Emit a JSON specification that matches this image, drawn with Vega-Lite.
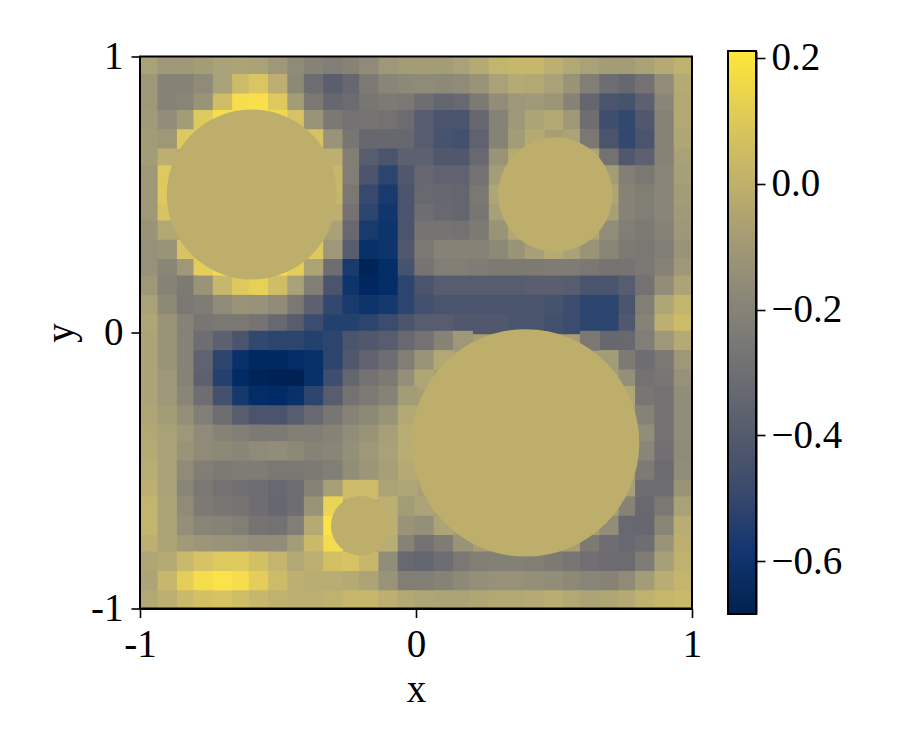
{"$schema":"https://vega.github.io/schema/vega-lite/v6.json","background":"white","padding":{"left":41,"top":37,"right":5,"bottom":5},"bounds":"flush","center":true,"spacing":36,"config":{"view":{"stroke":null},"axis":{"labelFont":"Liberation Serif","titleFont":"Liberation Serif","labelFontSize":39,"titleFontSize":39,"labelColor":"black","titleColor":"black","domainColor":"black","tickColor":"black","domainWidth":2,"tickWidth":1.6,"tickSize":9,"grid":false,"titleFontWeight":"normal","labelPadding":8,"labelFlush":false}},"hconcat":[{"width":552,"height":552,"view":{"fill":"#a89e73","stroke":null},"layer":[{"data":{"values":[
{"x":-0.97,"y":0.97,"v":-0.06},{"x":-0.9,"y":0.97,"v":-0.1},{"x":-0.83,"y":0.97,"v":-0.1},{"x":-0.77,"y":0.97,"v":-0.08},{"x":-0.7,"y":0.97,"v":-0.06},{"x":-0.63,"y":0.97,"v":-0.05},{"x":-0.57,"y":0.97,"v":-0.06},{"x":-0.5,"y":0.97,"v":-0.1},{"x":-0.43,"y":0.97,"v":-0.16},{"x":-0.37,"y":0.97,"v":-0.2},{"x":-0.3,"y":0.97,"v":-0.22},{"x":-0.23,"y":0.97,"v":-0.2},{"x":-0.17,"y":0.97,"v":-0.16},{"x":-0.1,"y":0.97,"v":-0.1},{"x":-0.03,"y":0.97,"v":-0.08},{"x":0.03,"y":0.97,"v":-0.08},{"x":0.1,"y":0.97,"v":-0.08},{"x":0.17,"y":0.97,"v":-0.06},{"x":0.23,"y":0.97,"v":-0.02},{"x":0.3,"y":0.97,"v":0.02},{"x":0.37,"y":0.97,"v":0.03},{"x":0.43,"y":0.97,"v":0.03},{"x":0.5,"y":0.97,"v":0},{"x":0.57,"y":0.97,"v":-0.03},{"x":0.63,"y":0.97,"v":-0.06},{"x":0.7,"y":0.97,"v":-0.08},{"x":0.77,"y":0.97,"v":-0.08},{"x":0.83,"y":0.97,"v":-0.06},{"x":0.9,"y":0.97,"v":-0.02},{"x":0.97,"y":0.97,"v":0.01},
{"x":-0.97,"y":0.9,"v":-0.1},{"x":-0.9,"y":0.9,"v":-0.2},{"x":-0.83,"y":0.9,"v":-0.2},{"x":-0.77,"y":0.9,"v":-0.16},{"x":-0.7,"y":0.9,"v":-0.06},{"x":-0.63,"y":0.9,"v":0.05},{"x":-0.57,"y":0.9,"v":0.09},{"x":-0.5,"y":0.9,"v":0},{"x":-0.43,"y":0.9,"v":-0.17},{"x":-0.37,"y":0.9,"v":-0.3},{"x":-0.3,"y":0.9,"v":-0.37},{"x":-0.23,"y":0.9,"v":-0.33},{"x":-0.17,"y":0.9,"v":-0.24},{"x":-0.1,"y":0.9,"v":-0.18},{"x":-0.03,"y":0.9,"v":-0.17},{"x":0.03,"y":0.9,"v":-0.16},{"x":0.1,"y":0.9,"v":-0.17},{"x":0.17,"y":0.9,"v":-0.16},{"x":0.23,"y":0.9,"v":-0.12},{"x":0.3,"y":0.9,"v":-0.06},{"x":0.37,"y":0.9,"v":-0.02},{"x":0.43,"y":0.9,"v":-0.03},{"x":0.5,"y":0.9,"v":-0.06},{"x":0.57,"y":0.9,"v":-0.12},{"x":0.63,"y":0.9,"v":-0.22},{"x":0.7,"y":0.9,"v":-0.3},{"x":0.77,"y":0.9,"v":-0.33},{"x":0.83,"y":0.9,"v":-0.28},{"x":0.9,"y":0.9,"v":-0.15},{"x":0.97,"y":0.9,"v":-0.02},
{"x":-0.97,"y":0.83,"v":-0.1},{"x":-0.9,"y":0.83,"v":-0.2},{"x":-0.83,"y":0.83,"v":-0.19},{"x":-0.77,"y":0.83,"v":-0.12},{"x":-0.7,"y":0.83,"v":0.06},{"x":-0.63,"y":0.83,"v":0.18},{"x":-0.57,"y":0.83,"v":0.19},{"x":-0.5,"y":0.83,"v":0.1},{"x":-0.43,"y":0.83,"v":-0.08},{"x":-0.37,"y":0.83,"v":-0.25},{"x":-0.3,"y":0.83,"v":-0.33},{"x":-0.23,"y":0.83,"v":-0.31},{"x":-0.17,"y":0.83,"v":-0.26},{"x":-0.1,"y":0.83,"v":-0.24},{"x":-0.03,"y":0.83,"v":-0.25},{"x":0.03,"y":0.83,"v":-0.3},{"x":0.1,"y":0.83,"v":-0.34},{"x":0.17,"y":0.83,"v":-0.32},{"x":0.23,"y":0.83,"v":-0.24},{"x":0.3,"y":0.83,"v":-0.15},{"x":0.37,"y":0.83,"v":-0.1},{"x":0.43,"y":0.83,"v":-0.09},{"x":0.5,"y":0.83,"v":-0.11},{"x":0.57,"y":0.83,"v":-0.2},{"x":0.63,"y":0.83,"v":-0.34},{"x":0.7,"y":0.83,"v":-0.42},{"x":0.77,"y":0.83,"v":-0.43},{"x":0.83,"y":0.83,"v":-0.36},{"x":0.9,"y":0.83,"v":-0.18},{"x":0.97,"y":0.83,"v":-0.03},
{"x":-0.97,"y":0.77,"v":-0.09},{"x":-0.9,"y":0.77,"v":-0.15},{"x":-0.83,"y":0.77,"v":-0.08},{"x":-0.77,"y":0.77,"v":0.1},{"x":-0.7,"y":0.77,"v":0.18},{"x":-0.5,"y":0.77,"v":0.16},{"x":-0.43,"y":0.77,"v":0.08},{"x":-0.37,"y":0.77,"v":-0.12},{"x":-0.3,"y":0.77,"v":-0.25},{"x":-0.23,"y":0.77,"v":-0.28},{"x":-0.17,"y":0.77,"v":-0.27},{"x":-0.1,"y":0.77,"v":-0.28},{"x":-0.03,"y":0.77,"v":-0.31},{"x":0.03,"y":0.77,"v":-0.38},{"x":0.1,"y":0.77,"v":-0.42},{"x":0.17,"y":0.77,"v":-0.42},{"x":0.23,"y":0.77,"v":-0.33},{"x":0.3,"y":0.77,"v":-0.2},{"x":0.37,"y":0.77,"v":-0.1},{"x":0.43,"y":0.77,"v":-0.05},{"x":0.5,"y":0.77,"v":-0.03},{"x":0.57,"y":0.77,"v":-0.1},{"x":0.63,"y":0.77,"v":-0.3},{"x":0.7,"y":0.77,"v":-0.45},{"x":0.77,"y":0.77,"v":-0.48},{"x":0.83,"y":0.77,"v":-0.4},{"x":0.9,"y":0.77,"v":-0.2},{"x":0.97,"y":0.77,"v":-0.03},
{"x":-0.97,"y":0.7,"v":-0.08},{"x":-0.9,"y":0.7,"v":-0.1},{"x":-0.83,"y":0.7,"v":0.1},{"x":-0.37,"y":0.7,"v":0.08},{"x":-0.3,"y":0.7,"v":-0.12},{"x":-0.23,"y":0.7,"v":-0.26},{"x":-0.17,"y":0.7,"v":-0.33},{"x":-0.1,"y":0.7,"v":-0.33},{"x":-0.03,"y":0.7,"v":-0.33},{"x":0.03,"y":0.7,"v":-0.38},{"x":0.1,"y":0.7,"v":-0.43},{"x":0.17,"y":0.7,"v":-0.44},{"x":0.23,"y":0.7,"v":-0.35},{"x":0.3,"y":0.7,"v":-0.2},{"x":0.37,"y":0.7,"v":-0.08},{"x":0.43,"y":0.7,"v":-0.02},{"x":0.57,"y":0.7,"v":-0.05},{"x":0.63,"y":0.7,"v":-0.25},{"x":0.7,"y":0.7,"v":-0.42},{"x":0.77,"y":0.7,"v":-0.48},{"x":0.83,"y":0.7,"v":-0.42},{"x":0.9,"y":0.7,"v":-0.2},{"x":0.97,"y":0.7,"v":-0.04},
{"x":-0.97,"y":0.63,"v":-0.08},{"x":-0.9,"y":0.63,"v":0},{"x":-0.3,"y":0.63,"v":0},{"x":-0.23,"y":0.63,"v":-0.22},{"x":-0.17,"y":0.63,"v":-0.38},{"x":-0.1,"y":0.63,"v":-0.42},{"x":-0.03,"y":0.63,"v":-0.36},{"x":0.03,"y":0.63,"v":-0.36},{"x":0.1,"y":0.63,"v":-0.4},{"x":0.17,"y":0.63,"v":-0.4},{"x":0.23,"y":0.63,"v":-0.32},{"x":0.3,"y":0.63,"v":-0.12},{"x":0.37,"y":0.63,"v":-0.02},{"x":0.63,"y":0.63,"v":-0.05},{"x":0.7,"y":0.63,"v":-0.28},{"x":0.77,"y":0.63,"v":-0.4},{"x":0.83,"y":0.63,"v":-0.36},{"x":0.9,"y":0.63,"v":-0.2},{"x":0.97,"y":0.63,"v":-0.06},
{"x":-0.97,"y":0.57,"v":-0.1},{"x":-0.9,"y":0.57,"v":0.1},{"x":-0.3,"y":0.57,"v":0.03},{"x":-0.23,"y":0.57,"v":-0.22},{"x":-0.17,"y":0.57,"v":-0.42},{"x":-0.1,"y":0.57,"v":-0.5},{"x":-0.03,"y":0.57,"v":-0.4},{"x":0.03,"y":0.57,"v":-0.33},{"x":0.1,"y":0.57,"v":-0.35},{"x":0.17,"y":0.57,"v":-0.35},{"x":0.23,"y":0.57,"v":-0.28},{"x":0.3,"y":0.57,"v":-0.08},{"x":0.7,"y":0.57,"v":-0.08},{"x":0.77,"y":0.57,"v":-0.22},{"x":0.83,"y":0.57,"v":-0.25},{"x":0.9,"y":0.57,"v":-0.18},{"x":0.97,"y":0.57,"v":-0.07},
{"x":-0.97,"y":0.5,"v":-0.1},{"x":-0.9,"y":0.5,"v":0.1},{"x":-0.3,"y":0.5,"v":0.03},{"x":-0.23,"y":0.5,"v":-0.25},{"x":-0.17,"y":0.5,"v":-0.47},{"x":-0.1,"y":0.5,"v":-0.55},{"x":-0.03,"y":0.5,"v":-0.42},{"x":0.03,"y":0.5,"v":-0.32},{"x":0.1,"y":0.5,"v":-0.33},{"x":0.17,"y":0.5,"v":-0.34},{"x":0.23,"y":0.5,"v":-0.25},{"x":0.3,"y":0.5,"v":-0.04},{"x":0.7,"y":0.5,"v":-0.04},{"x":0.77,"y":0.5,"v":-0.2},{"x":0.83,"y":0.5,"v":-0.22},{"x":0.9,"y":0.5,"v":-0.18},{"x":0.97,"y":0.5,"v":-0.08},
{"x":-0.97,"y":0.43,"v":-0.1},{"x":-0.9,"y":0.43,"v":0.08},{"x":-0.3,"y":0.43,"v":0},{"x":-0.23,"y":0.43,"v":-0.28},{"x":-0.17,"y":0.43,"v":-0.5},{"x":-0.1,"y":0.43,"v":-0.57},{"x":-0.03,"y":0.43,"v":-0.42},{"x":0.03,"y":0.43,"v":-0.3},{"x":0.1,"y":0.43,"v":-0.32},{"x":0.17,"y":0.43,"v":-0.34},{"x":0.23,"y":0.43,"v":-0.26},{"x":0.3,"y":0.43,"v":-0.07},{"x":0.7,"y":0.43,"v":-0.07},{"x":0.77,"y":0.43,"v":-0.2},{"x":0.83,"y":0.43,"v":-0.22},{"x":0.9,"y":0.43,"v":-0.18},{"x":0.97,"y":0.43,"v":-0.09},
{"x":-0.97,"y":0.37,"v":-0.12},{"x":-0.9,"y":0.37,"v":-0.03},{"x":-0.3,"y":0.37,"v":-0.06},{"x":-0.23,"y":0.37,"v":-0.32},{"x":-0.17,"y":0.37,"v":-0.55},{"x":-0.1,"y":0.37,"v":-0.58},{"x":-0.03,"y":0.37,"v":-0.42},{"x":0.03,"y":0.37,"v":-0.27},{"x":0.1,"y":0.37,"v":-0.27},{"x":0.17,"y":0.37,"v":-0.28},{"x":0.23,"y":0.37,"v":-0.24},{"x":0.3,"y":0.37,"v":-0.12},{"x":0.37,"y":0.37,"v":-0.03},{"x":0.63,"y":0.37,"v":-0.04},{"x":0.7,"y":0.37,"v":-0.15},{"x":0.77,"y":0.37,"v":-0.22},{"x":0.83,"y":0.37,"v":-0.24},{"x":0.9,"y":0.37,"v":-0.2},{"x":0.97,"y":0.37,"v":-0.1},
{"x":-0.97,"y":0.3,"v":-0.13},{"x":-0.9,"y":0.3,"v":-0.12},{"x":-0.83,"y":0.3,"v":0.08},{"x":-0.37,"y":0.3,"v":0.1},{"x":-0.3,"y":0.3,"v":-0.1},{"x":-0.23,"y":0.3,"v":-0.38},{"x":-0.17,"y":0.3,"v":-0.6},{"x":-0.1,"y":0.3,"v":-0.58},{"x":-0.03,"y":0.3,"v":-0.4},{"x":0.03,"y":0.3,"v":-0.25},{"x":0.1,"y":0.3,"v":-0.2},{"x":0.17,"y":0.3,"v":-0.2},{"x":0.23,"y":0.3,"v":-0.2},{"x":0.3,"y":0.3,"v":-0.17},{"x":0.37,"y":0.3,"v":-0.12},{"x":0.43,"y":0.3,"v":-0.07},{"x":0.5,"y":0.3,"v":-0.02},{"x":0.57,"y":0.3,"v":-0.06},{"x":0.63,"y":0.3,"v":-0.12},{"x":0.7,"y":0.3,"v":-0.18},{"x":0.77,"y":0.3,"v":-0.24},{"x":0.83,"y":0.3,"v":-0.25},{"x":0.9,"y":0.3,"v":-0.22},{"x":0.97,"y":0.3,"v":-0.12},
{"x":-0.97,"y":0.23,"v":-0.13},{"x":-0.9,"y":0.23,"v":-0.18},{"x":-0.83,"y":0.23,"v":-0.1},{"x":-0.77,"y":0.23,"v":0.12},{"x":-0.7,"y":0.23,"v":0.17},{"x":-0.5,"y":0.23,"v":0.18},{"x":-0.43,"y":0.23,"v":0.12},{"x":-0.37,"y":0.23,"v":-0.05},{"x":-0.3,"y":0.23,"v":-0.3},{"x":-0.23,"y":0.23,"v":-0.55},{"x":-0.17,"y":0.23,"v":-0.67},{"x":-0.1,"y":0.23,"v":-0.62},{"x":-0.03,"y":0.23,"v":-0.43},{"x":0.03,"y":0.23,"v":-0.27},{"x":0.1,"y":0.23,"v":-0.22},{"x":0.17,"y":0.23,"v":-0.22},{"x":0.23,"y":0.23,"v":-0.23},{"x":0.3,"y":0.23,"v":-0.24},{"x":0.37,"y":0.23,"v":-0.24},{"x":0.43,"y":0.23,"v":-0.24},{"x":0.5,"y":0.23,"v":-0.23},{"x":0.57,"y":0.23,"v":-0.23},{"x":0.63,"y":0.23,"v":-0.25},{"x":0.7,"y":0.23,"v":-0.27},{"x":0.77,"y":0.23,"v":-0.27},{"x":0.83,"y":0.23,"v":-0.25},{"x":0.9,"y":0.23,"v":-0.2},{"x":0.97,"y":0.23,"v":-0.1},
{"x":-0.97,"y":0.17,"v":-0.1},{"x":-0.9,"y":0.17,"v":-0.2},{"x":-0.83,"y":0.17,"v":-0.24},{"x":-0.77,"y":0.17,"v":-0.12},{"x":-0.7,"y":0.17,"v":0.03},{"x":-0.63,"y":0.17,"v":0.1},{"x":-0.57,"y":0.17,"v":0.13},{"x":-0.5,"y":0.17,"v":0.06},{"x":-0.43,"y":0.17,"v":-0.06},{"x":-0.37,"y":0.17,"v":-0.22},{"x":-0.3,"y":0.17,"v":-0.42},{"x":-0.23,"y":0.17,"v":-0.58},{"x":-0.17,"y":0.17,"v":-0.65},{"x":-0.1,"y":0.17,"v":-0.62},{"x":-0.03,"y":0.17,"v":-0.5},{"x":0.03,"y":0.17,"v":-0.42},{"x":0.1,"y":0.17,"v":-0.38},{"x":0.17,"y":0.17,"v":-0.38},{"x":0.23,"y":0.17,"v":-0.38},{"x":0.3,"y":0.17,"v":-0.38},{"x":0.37,"y":0.17,"v":-0.38},{"x":0.43,"y":0.17,"v":-0.37},{"x":0.5,"y":0.17,"v":-0.37},{"x":0.57,"y":0.17,"v":-0.38},{"x":0.63,"y":0.17,"v":-0.42},{"x":0.7,"y":0.17,"v":-0.42},{"x":0.77,"y":0.17,"v":-0.38},{"x":0.83,"y":0.17,"v":-0.28},{"x":0.9,"y":0.17,"v":-0.15},{"x":0.97,"y":0.17,"v":-0.05},
{"x":-0.97,"y":0.1,"v":-0.06},{"x":-0.9,"y":0.1,"v":-0.17},{"x":-0.83,"y":0.1,"v":-0.25},{"x":-0.77,"y":0.1,"v":-0.23},{"x":-0.7,"y":0.1,"v":-0.16},{"x":-0.63,"y":0.1,"v":-0.12},{"x":-0.57,"y":0.1,"v":-0.13},{"x":-0.5,"y":0.1,"v":-0.16},{"x":-0.43,"y":0.1,"v":-0.25},{"x":-0.37,"y":0.1,"v":-0.36},{"x":-0.3,"y":0.1,"v":-0.48},{"x":-0.23,"y":0.1,"v":-0.55},{"x":-0.17,"y":0.1,"v":-0.58},{"x":-0.1,"y":0.1,"v":-0.56},{"x":-0.03,"y":0.1,"v":-0.5},{"x":0.03,"y":0.1,"v":-0.44},{"x":0.1,"y":0.1,"v":-0.42},{"x":0.17,"y":0.1,"v":-0.42},{"x":0.23,"y":0.1,"v":-0.42},{"x":0.3,"y":0.1,"v":-0.42},{"x":0.37,"y":0.1,"v":-0.42},{"x":0.43,"y":0.1,"v":-0.42},{"x":0.5,"y":0.1,"v":-0.43},{"x":0.57,"y":0.1,"v":-0.46},{"x":0.63,"y":0.1,"v":-0.5},{"x":0.7,"y":0.1,"v":-0.5},{"x":0.77,"y":0.1,"v":-0.42},{"x":0.83,"y":0.1,"v":-0.22},{"x":0.9,"y":0.1,"v":-0.04},{"x":0.97,"y":0.1,"v":0.02},
{"x":-0.97,"y":0.03,"v":-0.04},{"x":-0.9,"y":0.03,"v":-0.12},{"x":-0.83,"y":0.03,"v":-0.2},{"x":-0.77,"y":0.03,"v":-0.26},{"x":-0.7,"y":0.03,"v":-0.25},{"x":-0.63,"y":0.03,"v":-0.25},{"x":-0.57,"y":0.03,"v":-0.27},{"x":-0.5,"y":0.03,"v":-0.32},{"x":-0.43,"y":0.03,"v":-0.38},{"x":-0.37,"y":0.03,"v":-0.46},{"x":-0.3,"y":0.03,"v":-0.52},{"x":-0.23,"y":0.03,"v":-0.52},{"x":-0.17,"y":0.03,"v":-0.5},{"x":-0.1,"y":0.03,"v":-0.46},{"x":-0.03,"y":0.03,"v":-0.42},{"x":0.03,"y":0.03,"v":-0.38},{"x":0.1,"y":0.03,"v":-0.38},{"x":0.17,"y":0.03,"v":-0.4},{"x":0.23,"y":0.03,"v":-0.4},{"x":0.3,"y":0.03,"v":-0.4},{"x":0.37,"y":0.03,"v":-0.42},{"x":0.43,"y":0.03,"v":-0.42},{"x":0.5,"y":0.03,"v":-0.44},{"x":0.57,"y":0.03,"v":-0.46},{"x":0.63,"y":0.03,"v":-0.5},{"x":0.7,"y":0.03,"v":-0.5},{"x":0.77,"y":0.03,"v":-0.4},{"x":0.83,"y":0.03,"v":-0.2},{"x":0.9,"y":0.03,"v":0},{"x":0.97,"y":0.03,"v":0.05},
{"x":-0.97,"y":-0.03,"v":-0.05},{"x":-0.9,"y":-0.03,"v":-0.12},{"x":-0.83,"y":-0.03,"v":-0.2},{"x":-0.77,"y":-0.03,"v":-0.3},{"x":-0.7,"y":-0.03,"v":-0.36},{"x":-0.63,"y":-0.03,"v":-0.42},{"x":-0.57,"y":-0.03,"v":-0.48},{"x":-0.5,"y":-0.03,"v":-0.5},{"x":-0.43,"y":-0.03,"v":-0.5},{"x":-0.37,"y":-0.03,"v":-0.52},{"x":-0.3,"y":-0.03,"v":-0.5},{"x":-0.23,"y":-0.03,"v":-0.42},{"x":-0.17,"y":-0.03,"v":-0.4},{"x":-0.1,"y":-0.03,"v":-0.38},{"x":-0.03,"y":-0.03,"v":-0.32},{"x":0.03,"y":-0.03,"v":-0.28},{"x":0.1,"y":-0.03,"v":-0.2},{"x":0.17,"y":-0.03,"v":-0.1},{"x":0.7,"y":-0.03,"v":-0.33},{"x":0.63,"y":-0.03,"v":-0.25},{"x":0.77,"y":-0.03,"v":-0.32},{"x":0.83,"y":-0.03,"v":-0.22},{"x":0.9,"y":-0.03,"v":-0.1},{"x":0.97,"y":-0.03,"v":-0.02},
{"x":-0.97,"y":-0.1,"v":-0.05},{"x":-0.9,"y":-0.1,"v":-0.12},{"x":-0.83,"y":-0.1,"v":-0.2},{"x":-0.77,"y":-0.1,"v":-0.35},{"x":-0.7,"y":-0.1,"v":-0.5},{"x":-0.63,"y":-0.1,"v":-0.6},{"x":-0.57,"y":-0.1,"v":-0.64},{"x":-0.5,"y":-0.1,"v":-0.64},{"x":-0.43,"y":-0.1,"v":-0.62},{"x":-0.37,"y":-0.1,"v":-0.6},{"x":-0.3,"y":-0.1,"v":-0.5},{"x":-0.23,"y":-0.1,"v":-0.4},{"x":-0.17,"y":-0.1,"v":-0.35},{"x":-0.1,"y":-0.1,"v":-0.3},{"x":-0.03,"y":-0.1,"v":-0.22},{"x":0.03,"y":-0.1,"v":-0.12},{"x":0.1,"y":-0.1,"v":-0.03},{"x":0.7,"y":-0.1,"v":-0.08},{"x":0.77,"y":-0.1,"v":-0.24},{"x":0.83,"y":-0.1,"v":-0.3},{"x":0.9,"y":-0.1,"v":-0.25},{"x":0.97,"y":-0.1,"v":-0.1},
{"x":-0.97,"y":-0.17,"v":-0.05},{"x":-0.9,"y":-0.17,"v":-0.1},{"x":-0.83,"y":-0.17,"v":-0.2},{"x":-0.77,"y":-0.17,"v":-0.36},{"x":-0.7,"y":-0.17,"v":-0.52},{"x":-0.63,"y":-0.17,"v":-0.63},{"x":-0.57,"y":-0.17,"v":-0.67},{"x":-0.5,"y":-0.17,"v":-0.68},{"x":-0.43,"y":-0.17,"v":-0.68},{"x":-0.37,"y":-0.17,"v":-0.6},{"x":-0.3,"y":-0.17,"v":-0.45},{"x":-0.23,"y":-0.17,"v":-0.34},{"x":-0.17,"y":-0.17,"v":-0.28},{"x":-0.1,"y":-0.17,"v":-0.24},{"x":-0.03,"y":-0.17,"v":-0.14},{"x":0.03,"y":-0.17,"v":-0.04},{"x":0.77,"y":-0.17,"v":-0.14},{"x":0.83,"y":-0.17,"v":-0.28},{"x":0.9,"y":-0.17,"v":-0.26},{"x":0.97,"y":-0.17,"v":-0.13},
{"x":-0.97,"y":-0.23,"v":-0.05},{"x":-0.9,"y":-0.23,"v":-0.1},{"x":-0.83,"y":-0.23,"v":-0.18},{"x":-0.77,"y":-0.23,"v":-0.3},{"x":-0.7,"y":-0.23,"v":-0.44},{"x":-0.63,"y":-0.23,"v":-0.56},{"x":-0.57,"y":-0.23,"v":-0.62},{"x":-0.5,"y":-0.23,"v":-0.63},{"x":-0.43,"y":-0.23,"v":-0.6},{"x":-0.37,"y":-0.23,"v":-0.5},{"x":-0.3,"y":-0.23,"v":-0.38},{"x":-0.23,"y":-0.23,"v":-0.28},{"x":-0.17,"y":-0.23,"v":-0.24},{"x":-0.1,"y":-0.23,"v":-0.2},{"x":-0.03,"y":-0.23,"v":-0.08},{"x":0.77,"y":-0.23,"v":-0.04},{"x":0.83,"y":-0.23,"v":-0.26},{"x":0.9,"y":-0.23,"v":-0.28},{"x":0.97,"y":-0.23,"v":-0.15},
{"x":-0.97,"y":-0.3,"v":-0.04},{"x":-0.9,"y":-0.3,"v":-0.08},{"x":-0.83,"y":-0.3,"v":-0.14},{"x":-0.77,"y":-0.3,"v":-0.22},{"x":-0.7,"y":-0.3,"v":-0.3},{"x":-0.63,"y":-0.3,"v":-0.38},{"x":-0.57,"y":-0.3,"v":-0.42},{"x":-0.5,"y":-0.3,"v":-0.42},{"x":-0.43,"y":-0.3,"v":-0.38},{"x":-0.37,"y":-0.3,"v":-0.32},{"x":-0.3,"y":-0.3,"v":-0.26},{"x":-0.23,"y":-0.3,"v":-0.2},{"x":-0.17,"y":-0.3,"v":-0.17},{"x":-0.1,"y":-0.3,"v":-0.12},{"x":-0.03,"y":-0.3,"v":-0.03},{"x":0.83,"y":-0.3,"v":-0.2},{"x":0.9,"y":-0.3,"v":-0.28},{"x":0.97,"y":-0.3,"v":-0.15},
{"x":-0.97,"y":-0.37,"v":-0.03},{"x":-0.9,"y":-0.37,"v":-0.06},{"x":-0.83,"y":-0.37,"v":-0.1},{"x":-0.77,"y":-0.37,"v":-0.16},{"x":-0.7,"y":-0.37,"v":-0.2},{"x":-0.63,"y":-0.37,"v":-0.22},{"x":-0.57,"y":-0.37,"v":-0.24},{"x":-0.5,"y":-0.37,"v":-0.24},{"x":-0.43,"y":-0.37,"v":-0.22},{"x":-0.37,"y":-0.37,"v":-0.22},{"x":-0.3,"y":-0.37,"v":-0.2},{"x":-0.23,"y":-0.37,"v":-0.15},{"x":-0.17,"y":-0.37,"v":-0.12},{"x":-0.1,"y":-0.37,"v":-0.07},{"x":-0.03,"y":-0.37,"v":-0.01},{"x":0.83,"y":-0.37,"v":-0.15},{"x":0.9,"y":-0.37,"v":-0.28},{"x":0.97,"y":-0.37,"v":-0.15},
{"x":-0.97,"y":-0.43,"v":-0.02},{"x":-0.9,"y":-0.43,"v":-0.06},{"x":-0.83,"y":-0.43,"v":-0.12},{"x":-0.77,"y":-0.43,"v":-0.16},{"x":-0.7,"y":-0.43,"v":-0.17},{"x":-0.63,"y":-0.43,"v":-0.18},{"x":-0.57,"y":-0.43,"v":-0.16},{"x":-0.5,"y":-0.43,"v":-0.15},{"x":-0.43,"y":-0.43,"v":-0.17},{"x":-0.37,"y":-0.43,"v":-0.2},{"x":-0.3,"y":-0.43,"v":-0.18},{"x":-0.23,"y":-0.43,"v":-0.14},{"x":-0.17,"y":-0.43,"v":-0.1},{"x":-0.1,"y":-0.43,"v":-0.06},{"x":-0.03,"y":-0.43,"v":-0.01},{"x":0.83,"y":-0.43,"v":-0.18},{"x":0.9,"y":-0.43,"v":-0.29},{"x":0.97,"y":-0.43,"v":-0.16},
{"x":-0.97,"y":-0.5,"v":-0.01},{"x":-0.9,"y":-0.5,"v":-0.06},{"x":-0.83,"y":-0.5,"v":-0.16},{"x":-0.77,"y":-0.5,"v":-0.22},{"x":-0.7,"y":-0.5,"v":-0.24},{"x":-0.63,"y":-0.5,"v":-0.23},{"x":-0.57,"y":-0.5,"v":-0.23},{"x":-0.5,"y":-0.5,"v":-0.25},{"x":-0.43,"y":-0.5,"v":-0.25},{"x":-0.37,"y":-0.5,"v":-0.24},{"x":-0.3,"y":-0.5,"v":-0.22},{"x":-0.23,"y":-0.5,"v":-0.15},{"x":-0.17,"y":-0.5,"v":-0.11},{"x":-0.1,"y":-0.5,"v":-0.07},{"x":-0.03,"y":-0.5,"v":-0.02},{"x":0.83,"y":-0.5,"v":-0.24},{"x":0.9,"y":-0.5,"v":-0.31},{"x":0.97,"y":-0.5,"v":-0.15},
{"x":-0.97,"y":-0.57,"v":0},{"x":-0.9,"y":-0.57,"v":-0.06},{"x":-0.83,"y":-0.57,"v":-0.18},{"x":-0.77,"y":-0.57,"v":-0.25},{"x":-0.7,"y":-0.57,"v":-0.28},{"x":-0.63,"y":-0.57,"v":-0.29},{"x":-0.57,"y":-0.57,"v":-0.3},{"x":-0.5,"y":-0.57,"v":-0.32},{"x":-0.43,"y":-0.57,"v":-0.3},{"x":-0.37,"y":-0.57,"v":-0.2},{"x":-0.3,"y":-0.57,"v":-0.07},{"x":-0.23,"y":-0.57,"v":0.05},{"x":-0.17,"y":-0.57,"v":0.05},{"x":-0.1,"y":-0.57,"v":-0.05},{"x":-0.03,"y":-0.57,"v":-0.04},{"x":0.77,"y":-0.57,"v":-0.07},{"x":0.83,"y":-0.57,"v":-0.3},{"x":0.9,"y":-0.57,"v":-0.3},{"x":0.97,"y":-0.57,"v":-0.12},
{"x":-0.97,"y":-0.63,"v":0.02},{"x":-0.9,"y":-0.63,"v":-0.05},{"x":-0.83,"y":-0.63,"v":-0.16},{"x":-0.77,"y":-0.63,"v":-0.24},{"x":-0.7,"y":-0.63,"v":-0.26},{"x":-0.63,"y":-0.63,"v":-0.27},{"x":-0.57,"y":-0.63,"v":-0.3},{"x":-0.5,"y":-0.63,"v":-0.33},{"x":-0.43,"y":-0.63,"v":-0.3},{"x":-0.37,"y":-0.63,"v":-0.12},{"x":-0.3,"y":-0.63,"v":0.14},{"x":-0.1,"y":-0.63,"v":0},{"x":-0.03,"y":-0.63,"v":-0.08},{"x":0.03,"y":-0.63,"v":-0.05},{"x":0.77,"y":-0.63,"v":-0.2},{"x":0.83,"y":-0.63,"v":-0.32},{"x":0.9,"y":-0.63,"v":-0.25},{"x":0.97,"y":-0.63,"v":-0.06},
{"x":-0.97,"y":-0.7,"v":0.02},{"x":-0.9,"y":-0.7,"v":-0.05},{"x":-0.83,"y":-0.7,"v":-0.14},{"x":-0.77,"y":-0.7,"v":-0.19},{"x":-0.7,"y":-0.7,"v":-0.2},{"x":-0.63,"y":-0.7,"v":-0.22},{"x":-0.57,"y":-0.7,"v":-0.27},{"x":-0.5,"y":-0.7,"v":-0.28},{"x":-0.43,"y":-0.7,"v":-0.22},{"x":-0.37,"y":-0.7,"v":-0.02},{"x":-0.3,"y":-0.7,"v":0.2},{"x":-0.1,"y":-0.7,"v":0},{"x":-0.03,"y":-0.7,"v":-0.12},{"x":0.03,"y":-0.7,"v":-0.14},{"x":0.1,"y":-0.7,"v":-0.05},{"x":0.7,"y":-0.7,"v":-0.15},{"x":0.77,"y":-0.7,"v":-0.32},{"x":0.83,"y":-0.7,"v":-0.33},{"x":0.9,"y":-0.7,"v":-0.18},{"x":0.97,"y":-0.7,"v":-0.01},
{"x":-0.97,"y":-0.77,"v":0},{"x":-0.9,"y":-0.77,"v":-0.05},{"x":-0.83,"y":-0.77,"v":-0.09},{"x":-0.77,"y":-0.77,"v":-0.11},{"x":-0.7,"y":-0.77,"v":-0.12},{"x":-0.63,"y":-0.77,"v":-0.13},{"x":-0.57,"y":-0.77,"v":-0.15},{"x":-0.5,"y":-0.77,"v":-0.15},{"x":-0.43,"y":-0.77,"v":-0.08},{"x":-0.37,"y":-0.77,"v":0.04},{"x":-0.3,"y":-0.77,"v":0.17},{"x":-0.1,"y":-0.77,"v":-0.01},{"x":-0.03,"y":-0.77,"v":-0.2},{"x":0.03,"y":-0.77,"v":-0.28},{"x":0.1,"y":-0.77,"v":-0.23},{"x":0.17,"y":-0.77,"v":-0.12},{"x":0.63,"y":-0.77,"v":-0.24},{"x":0.7,"y":-0.77,"v":-0.3},{"x":0.77,"y":-0.77,"v":-0.32},{"x":0.83,"y":-0.77,"v":-0.3},{"x":0.9,"y":-0.77,"v":-0.12},{"x":0.97,"y":-0.77,"v":0},
{"x":-0.97,"y":-0.83,"v":-0.04},{"x":-0.9,"y":-0.83,"v":-0.02},{"x":-0.83,"y":-0.83,"v":0.04},{"x":-0.77,"y":-0.83,"v":0.08},{"x":-0.7,"y":-0.83,"v":0.1},{"x":-0.63,"y":-0.83,"v":0.1},{"x":-0.57,"y":-0.83,"v":0.07},{"x":-0.5,"y":-0.83,"v":0.02},{"x":-0.43,"y":-0.83,"v":-0.03},{"x":-0.37,"y":-0.83,"v":0},{"x":-0.3,"y":-0.83,"v":0.07},{"x":-0.23,"y":-0.83,"v":0.08},{"x":-0.17,"y":-0.83,"v":0.03},{"x":-0.1,"y":-0.83,"v":-0.15},{"x":-0.03,"y":-0.83,"v":-0.32},{"x":0.03,"y":-0.83,"v":-0.34},{"x":0.1,"y":-0.83,"v":-0.3},{"x":0.17,"y":-0.83,"v":-0.25},{"x":0.23,"y":-0.83,"v":-0.22},{"x":0.3,"y":-0.83,"v":-0.21},{"x":0.37,"y":-0.83,"v":-0.21},{"x":0.43,"y":-0.83,"v":-0.22},{"x":0.5,"y":-0.83,"v":-0.24},{"x":0.57,"y":-0.83,"v":-0.26},{"x":0.63,"y":-0.83,"v":-0.29},{"x":0.7,"y":-0.83,"v":-0.31},{"x":0.77,"y":-0.83,"v":-0.31},{"x":0.83,"y":-0.83,"v":-0.23},{"x":0.9,"y":-0.83,"v":-0.07},{"x":0.97,"y":-0.83,"v":0.01},
{"x":-0.97,"y":-0.9,"v":-0.05},{"x":-0.9,"y":-0.9,"v":0.03},{"x":-0.83,"y":-0.9,"v":0.12},{"x":-0.77,"y":-0.9,"v":0.18},{"x":-0.7,"y":-0.9,"v":0.2},{"x":-0.63,"y":-0.9,"v":0.18},{"x":-0.57,"y":-0.9,"v":0.12},{"x":-0.5,"y":-0.9,"v":0.05},{"x":-0.43,"y":-0.9,"v":0},{"x":-0.37,"y":-0.9,"v":-0.01},{"x":-0.3,"y":-0.9,"v":-0.01},{"x":-0.23,"y":-0.9,"v":-0.02},{"x":-0.17,"y":-0.9,"v":-0.05},{"x":-0.1,"y":-0.9,"v":-0.12},{"x":-0.03,"y":-0.9,"v":-0.22},{"x":0.03,"y":-0.9,"v":-0.22},{"x":0.1,"y":-0.9,"v":-0.2},{"x":0.17,"y":-0.9,"v":-0.17},{"x":0.23,"y":-0.9,"v":-0.14},{"x":0.3,"y":-0.9,"v":-0.13},{"x":0.37,"y":-0.9,"v":-0.13},{"x":0.43,"y":-0.9,"v":-0.14},{"x":0.5,"y":-0.9,"v":-0.15},{"x":0.57,"y":-0.9,"v":-0.17},{"x":0.63,"y":-0.9,"v":-0.19},{"x":0.7,"y":-0.9,"v":-0.2},{"x":0.77,"y":-0.9,"v":-0.16},{"x":0.83,"y":-0.9,"v":-0.08},{"x":0.9,"y":-0.9,"v":-0.01},{"x":0.97,"y":-0.9,"v":0.02},
{"x":-0.97,"y":-0.97,"v":-0.03},{"x":-0.9,"y":-0.97,"v":0},{"x":-0.83,"y":-0.97,"v":0.04},{"x":-0.77,"y":-0.97,"v":0.07},{"x":-0.7,"y":-0.97,"v":0.08},{"x":-0.63,"y":-0.97,"v":0.06},{"x":-0.57,"y":-0.97,"v":0.03},{"x":-0.5,"y":-0.97,"v":0.01},{"x":-0.43,"y":-0.97,"v":0},{"x":-0.37,"y":-0.97,"v":0},{"x":-0.3,"y":-0.97,"v":0.01},{"x":-0.23,"y":-0.97,"v":0.03},{"x":-0.17,"y":-0.97,"v":0.03},{"x":-0.1,"y":-0.97,"v":0},{"x":-0.03,"y":-0.97,"v":-0.03},{"x":0.03,"y":-0.97,"v":-0.04},{"x":0.1,"y":-0.97,"v":-0.05},{"x":0.17,"y":-0.97,"v":-0.05},{"x":0.23,"y":-0.97,"v":-0.04},{"x":0.3,"y":-0.97,"v":-0.03},{"x":0.37,"y":-0.97,"v":-0.03},{"x":0.43,"y":-0.97,"v":-0.02},{"x":0.5,"y":-0.97,"v":-0.01},{"x":0.57,"y":-0.97,"v":-0.03},{"x":0.63,"y":-0.97,"v":-0.05},{"x":0.7,"y":-0.97,"v":-0.04},{"x":0.77,"y":-0.97,"v":-0.02},{"x":0.83,"y":-0.97,"v":0.01},{"x":0.9,"y":-0.97,"v":0.03},{"x":0.97,"y":-0.97,"v":0.04}
]},"mark":{"type":"rect","width":20,"height":20,"clip":true},"encoding":{"x":{"field":"x","type":"quantitative","scale":{"domain":[-1,1],"nice":false},"axis":{"values":[-1,0,1],"labelExpr":"datum.value","title":"x","titlePadding":6}},"y":{"field":"y","type":"quantitative","scale":{"domain":[-1,1],"nice":false},"axis":{"values":[-1,0,1],"labelExpr":"datum.value","title":"y","titlePadding":10}},"color":{"field":"v","type":"quantitative","legend":null,"scale":{"scheme":"cividis","domain":[-0.684,0.211],"clamp":true}}}},{"data":{"values":[{"cx":-0.595,"cy":0.5,"r":0.308},{"cx":0.505,"cy":0.5,"r":0.207},{"cx":0.397,"cy":-0.4,"r":0.412},{"cx":-0.2,"cy":-0.7,"r":0.108}]},"mark":{"type":"point","filled":true,"shape":"circle","color":"#bdaf6b","opacity":1},"encoding":{"x":{"field":"cx","type":"quantitative"},"y":{"field":"cy","type":"quantitative"},"size":{"field":"r","type":"quantitative","legend":null,"scale":{"type":"pow","exponent":2,"domain":[0,1],"range":[0,304704]}}}},{"data":{"values":[{"a":-1,"b":-1,"c":1,"d":1}]},"mark":{"type":"rect","fill":null,"stroke":"black","strokeWidth":2},"encoding":{"x":{"field":"a","type":"quantitative"},"x2":{"field":"c"},"y":{"field":"b","type":"quantitative"},"y2":{"field":"d"}}}]},{"width":28,"height":563,"data":{"values":[{"lo":-0.684,"hi":0.211}]},"mark":{"type":"rect","stroke":"black","strokeWidth":2,"fill":{"gradient":"linear","x1":0,"y1":1,"x2":0,"y2":0,"stops":[{"offset":0,"color":"#00224e"},{"offset":0.11,"color":"#123570"},{"offset":0.22,"color":"#3b496c"},{"offset":0.33,"color":"#575d6d"},{"offset":0.44,"color":"#707173"},{"offset":0.56,"color":"#8a8678"},{"offset":0.67,"color":"#a59c74"},{"offset":0.78,"color":"#c3b369"},{"offset":0.89,"color":"#e1cc55"},{"offset":1,"color":"#fee838"}]}},"encoding":{"y":{"field":"lo","type":"quantitative","scale":{"domain":[-0.684,0.211],"nice":false},"axis":{"orient":"right","values":[-0.6,-0.4,-0.2,0,0.2],"format":".1f","labelExpr":"replace(datum.label,'-','\u2212')","labelPadding":6,"title":null}},"y2":{"field":"hi"}}}],"resolve":{"scale":{"y":"independent","color":"independent"}}}
